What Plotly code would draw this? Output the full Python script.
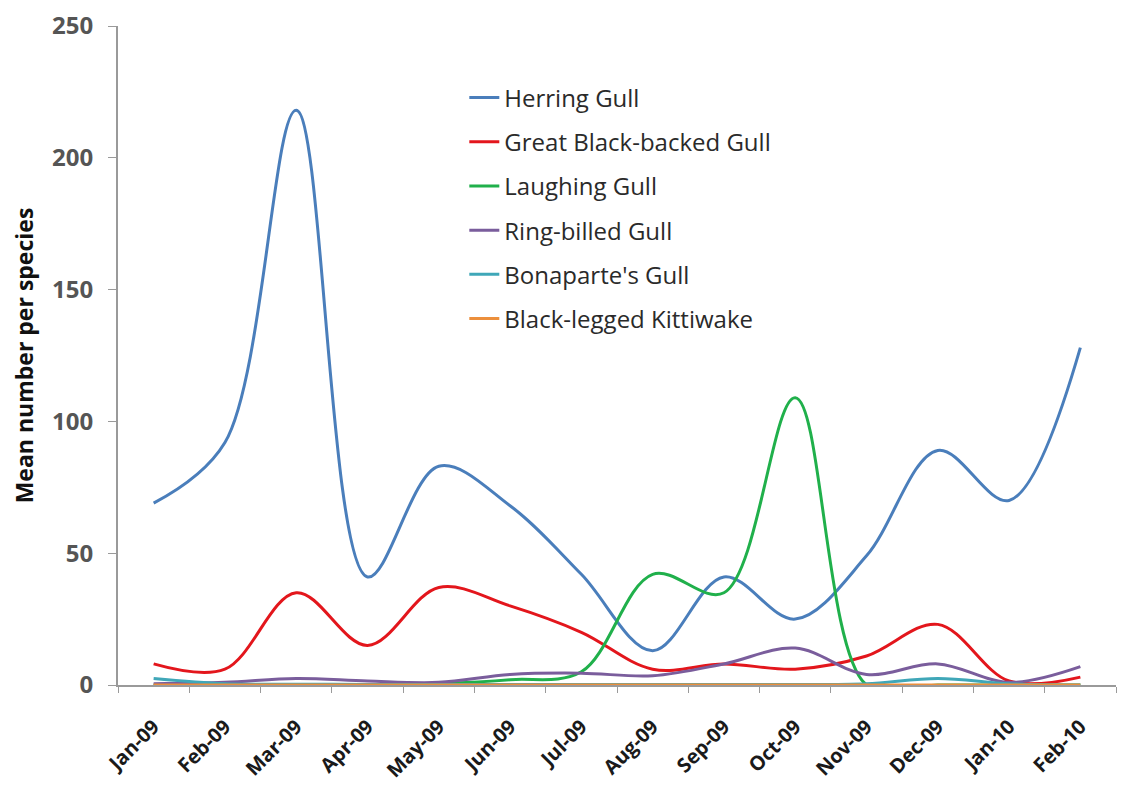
import plotly.graph_objects as go

months = ["Jan-09", "Feb-09", "Mar-09", "Apr-09", "May-09", "Jun-09", "Jul-09",
          "Aug-09", "Sep-09", "Oct-09", "Nov-09", "Dec-09", "Jan-10", "Feb-10"]

herring = [69, 92, 218, 41, 83, 68, 42, 13, 41, 25, 49, 89, 70, 128]
great_black_backed = [8, 6, 35, 15, 37, 30, 20, 6, 8, 6, 11, 23, 1.5, 3]
laughing = [0, 0, 0, 0, 0.5, 2, 5, 42, 35, 109, 0, 0, 0, 0]
ring_billed = [0.5, 1, 2.5, 1.5, 1, 4, 4.5, 3.5, 8, 14, 4, 8, 1, 7]
bonapartes = [2.5, 0.5, 0.3, 0.2, 0.2, 0.2, 0.2, 0.2, 0.2, 0.2, 0.5, 2.5, 0.5, 0]
kittiwake = [0, 0, 0, 0, 0, 0, 0, 0, 0, 0, 0, 0, 0, 0]

series = [
    ("Herring Gull", herring, "#4a7ebb"),
    ("Great Black-backed Gull", great_black_backed, "#e3161c"),
    ("Laughing Gull", laughing, "#20b04b"),
    ("Ring-billed Gull", ring_billed, "#7a5d9c"),
    ("Bonaparte's Gull", bonapartes, "#3fa7b8"),
    ("Black-legged Kittiwake", kittiwake, "#ec8f3c"),
]

fig = go.Figure()

for name, values, color in series:
    fig.add_trace(
        go.Scatter(
            x=months,
            y=values,
            mode="lines",
            name=name,
            legendgroup=name,
            line=dict(color=color, width=3, shape="spline", smoothing=1),
        )
    )

fig.update_layout(
    width=1110,
    height=782,
    margin=dict(l=110, r=2, t=18, b=105),
    paper_bgcolor="white",
    plot_bgcolor="white",
    font=dict(family="Open Sans, Liberation Sans, sans-serif", color="#404040"),
    showlegend=True,
    legend=dict(
        x=0.347, y=0.925,
        xanchor="left", yanchor="top",
        traceorder="grouped",
        tracegroupgap=10,
        font=dict(size=24, color="#2a2a2a"),
        bgcolor="rgba(0,0,0,0)",
        itemwidth=30,
    ),
    xaxis=dict(
        type="category",
        range=[-0.5, 13.5],
        automargin=False,
        showline=True,
        linecolor="#9a9a9a",
        linewidth=2,
        ticks="outside",
        tickson="boundaries",
        ticklen=6,
        tickcolor="#9a9a9a",
        tickangle=-45,
        ticklabelstandoff=20,
        tickfont=dict(size=20, color="#1a1a1a", weight="bold"),
        showgrid=False,
        zeroline=False,
    ),
    yaxis=dict(
        range=[0, 250],
        tickvals=[0, 50, 100, 150, 200, 250],
        automargin=False,
        showline=True,
        linecolor="#9a9a9a",
        linewidth=2,
        ticks="outside",
        ticklen=8,
        tickcolor="#9a9a9a",
        ticklabelstandoff=10,
        tickfont=dict(size=24, color="#555555", weight="bold"),
        showgrid=False,
        zeroline=False,
        title=dict(
            text="Mean number per species",
            font=dict(size=23, color="#111111", weight="bold"),
            standoff=18,
        ),
    ),
)

fig.write_html("out.html")
